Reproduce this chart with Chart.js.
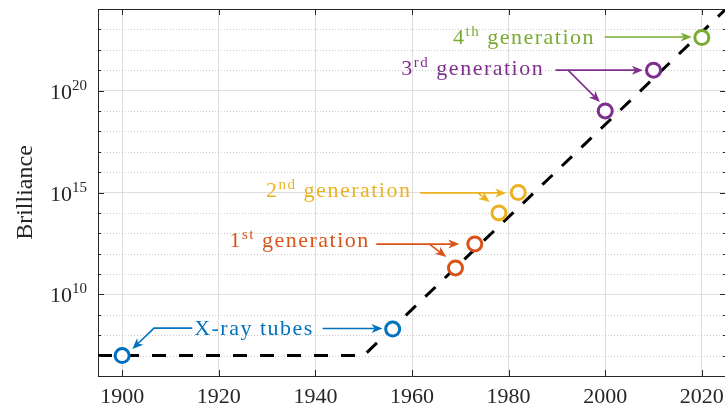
<!DOCTYPE html>
<html>
<head>
<meta charset="utf-8">
<script src="https://cdn.jsdelivr.net/npm/chart.js@4/dist/chart.umd.min.js"></script>
<style>
  html, body { margin: 0; padding: 0; background: #fff; overflow: hidden; }
  #wrap { width: 727px; height: 412px; }
</style>
</head>
<body>
<div id="wrap"><canvas id="brilliance"></canvas></div>
<script>
// ===========================================
// Data
// ===========================================

// light sources (year, brilliance)
var xrayYears = [1900, 1956];
var xrayBrill = [1e7, 2e8];
var gen1Years = [1969, 1973];
var gen1Brill = [2e11, 3e12];
var gen2Years = [1978, 1982];
var gen2Brill = [1e14, 1e15];
var gen3Years = [2000, 2010];
var gen3Brill = [1e19, 1e21];
var gen4Years = [2020];
var gen4Brill = [4e22];

// trend (dashed)
var trendYears = [1895, 1950, 2025];
var trendBrill = [1e7, 1e7, 1e24];

// ticks
var xTicks = [1900, 1920, 1940, 1960, 1980, 2000, 2020];
var yTickExponents = [10, 15, 20];
var yMinorExponents = [6, 7, 8, 9, 11, 12, 13, 14, 16, 17, 18, 19, 21, 22, 23, 24];

// ===========================================
// Styles
// ===========================================
var serif = "'Liberation Serif', 'DejaVu Serif', serif";
var axisColor = '#262626';
var gridColor = '#dedede';
var minorGridColor = '#c9c9c9';

var blue = '#0072BD';
var orange = '#D95319';
var yellow = '#EDB120';
var purple = '#7E2F8E';
var green = '#77AC30';

// annotations: text at [year, log10 brilliance] (left, baseline), arrows as polylines
var notes = [
	{ color: blue, at: [1914.9, 8.0], parts: [['X-ray tubes', 0]],
	  arrows: [ [[1914.5, 8.35], [1906.6, 8.35], [1902.1, 7.32]],
	            [[1941.5, 8.33], [1953.9, 8.33]] ] },
	{ color: orange, at: [1922.2, 12.33], parts: [['1', 0], ['st', 1], [' generation', 0]],
	  arrows: [ [[1952.6, 12.47], [1969.8, 12.47]],
	            [[1963.6, 12.47], [1967.1, 11.84]] ] },
	{ color: yellow, at: [1929.8, 14.78], parts: [['2', 0], ['nd', 1], [' generation', 0]],
	  arrows: [ [[1961.7, 14.98], [1979.5, 14.98]],
	            [[1973.6, 14.98], [1976.1, 14.54]] ] },
	{ color: purple, at: [1957.8, 20.78], parts: [['3', 0], ['rd', 1], [' generation', 0]],
	  arrows: [ [[1989.7, 21.0], [2007.8, 21.0]],
	            [[1992.3, 21.0], [1998.9, 19.44]] ] },
	{ color: green, at: [1968.5, 22.30], parts: [['4', 0], ['th', 1], [' generation', 0]],
	  arrows: [ [[1999.9, 22.63], [2017.9, 22.63]] ] }
];

// ===========================================
// Functions
// ===========================================
function toPoints(xs, ys) {
	return xs.map(function (x, i) { return { x: x, y: ys[i] }; });
}

function markerSet(xs, ys, color) {
	return {
		data: toPoints(xs, ys),
		showLine: false,
		pointStyle: 'circle',
		pointRadius: 7,
		pointHoverRadius: 7,
		pointBorderWidth: 3,
		borderColor: color,
		backgroundColor: '#ffffff',
		order: 0
	};
}

function drawArrow(ctx, pts, color) {
	var n = pts.length;
	var tip = pts[n - 1], prev = pts[n - 2];
	var a = Math.atan2(tip.y - prev.y, tip.x - prev.x);
	var c = Math.cos(a), s = Math.sin(a);
	var len = 11, half = 4.5, back = 8;
	var bx = tip.x - back * c, by = tip.y - back * s;
	ctx.strokeStyle = color;
	ctx.fillStyle = color;
	ctx.lineWidth = 1.6;
	ctx.setLineDash([]);
	ctx.beginPath();
	ctx.moveTo(pts[0].x, pts[0].y);
	for (var i = 1; i < n - 1; i++) ctx.lineTo(pts[i].x, pts[i].y);
	ctx.lineTo(bx, by);
	ctx.stroke();
	ctx.beginPath();
	ctx.moveTo(tip.x, tip.y);
	ctx.lineTo(tip.x - len * c + half * s, tip.y - len * s - half * c);
	ctx.lineTo(bx, by);
	ctx.lineTo(tip.x - len * c - half * s, tip.y - len * s + half * c);
	ctx.closePath();
	ctx.fill();
}

function drawParts(ctx, x, y, parts, color, size, supSize) {
	ctx.fillStyle = color;
	ctx.textAlign = 'left';
	ctx.textBaseline = 'alphabetic';
	parts.forEach(function (p) {
		var sup = p[1] === 1;
		ctx.font = (sup ? supSize : size) + 'px ' + serif;
		ctx.fillText(p[0], x, sup ? y - 8 : y);
		x += ctx.measureText(p[0]).width;
	});
}

var decor = {
	id: 'decor',
	beforeDatasetsDraw: function (chart) {
		var ctx = chart.ctx, area = chart.chartArea, ys = chart.scales.y;
		ctx.save();
		ctx.strokeStyle = minorGridColor;
		ctx.lineWidth = 1;
		ctx.setLineDash([1, 2]);
		yMinorExponents.forEach(function (e) {
			var py = Math.round(ys.getPixelForValue(Math.pow(10, e))) + 0.5;
			if (py <= area.top + 1 || py >= area.bottom - 1) return;
			ctx.beginPath();
			ctx.moveTo(area.left, py);
			ctx.lineTo(area.right, py);
			ctx.stroke();
		});
		ctx.restore();
	},
	afterDatasetsDraw: function (chart) {
		var ctx = chart.ctx, area = chart.chartArea;
		var xs = chart.scales.x, ys = chart.scales.y;
		function px(p) { return { x: xs.getPixelForValue(p[0]), y: ys.getPixelForValue(Math.pow(10, p[1])) }; }

		ctx.save();
		// box: top and right edges, inward ticks
		ctx.strokeStyle = axisColor;
		ctx.lineWidth = 1;
		ctx.setLineDash([]);
		ctx.beginPath();
		ctx.moveTo(area.left, area.top + 0.5);
		ctx.lineTo(area.right, area.top + 0.5);
		ctx.lineTo(area.right - 0.5, area.bottom);
		ctx.stroke();
		ctx.beginPath();
		yTickExponents.concat(yMinorExponents).forEach(function (e) {
			var py = Math.round(ys.getPixelForValue(Math.pow(10, e))) + 0.5;
			var l = yTickExponents.indexOf(e) >= 0 ? 6 : 3;
			ctx.moveTo(area.left, py); ctx.lineTo(area.left + l, py);
			ctx.moveTo(area.right, py); ctx.lineTo(area.right - l, py);
		});
		xTicks.forEach(function (v) {
			var pxx = Math.round(xs.getPixelForValue(v)) + 0.5;
			ctx.moveTo(pxx, area.bottom); ctx.lineTo(pxx, area.bottom - 6);
			ctx.moveTo(pxx, area.top); ctx.lineTo(pxx, area.top + 6);
		});
		ctx.stroke();

		// y tick labels 10^n
		ctx.fillStyle = axisColor;
		ctx.textBaseline = 'alphabetic';
		ctx.textAlign = 'left';
		yTickExponents.forEach(function (e) {
			var py = ys.getPixelForValue(Math.pow(10, e));
			ctx.font = '15px ' + serif;
			var ew = ctx.measureText(String(e)).width;
			ctx.font = '22px ' + serif;
			var bw = ctx.measureText('10').width;
			var right = area.left - 11;
			ctx.fillText('10', right - ew - bw, py + 8);
			ctx.font = '15px ' + serif;
			ctx.fillText(String(e), right - ew, py - 1);
		});

		// annotations
		ctx.letterSpacing = '1.5px';
		notes.forEach(function (n) {
			n.arrows.forEach(function (a) { drawArrow(ctx, a.map(px), n.color); });
			var t = px(n.at);
			drawParts(ctx, t.x, t.y, n.parts, n.color, 22, 15);
		});
		ctx.letterSpacing = '0px';
		ctx.restore();
	}
};

// ===========================================
// Chart
// ===========================================
var ctx = document.getElementById('brilliance').getContext('2d');

new Chart(ctx, {
	type: 'scatter',
	data: {
		datasets: [
			markerSet(xrayYears, xrayBrill, blue),
			markerSet(gen1Years, gen1Brill, orange),
			markerSet(gen2Years, gen2Brill, yellow),
			markerSet(gen3Years, gen3Brill, purple),
			markerSet(gen4Years, gen4Brill, green),
			{
				data: toPoints(trendYears, trendBrill),
				showLine: true,
				borderColor: '#000000',
				borderWidth: 3,
				borderDash: [14, 13],
				pointRadius: 0,
				pointHoverRadius: 0,
				fill: false,
				order: 1
			}
		]
	},
	options: {
		responsive: true,
		maintainAspectRatio: false,
		animation: false,
		events: [],
		layout: { autoPadding: false, padding: { top: 9, right: 1, left: 0, bottom: 0 } },
		plugins: { legend: { display: false }, tooltip: { enabled: false } },
		scales: {
			x: {
				type: 'linear',
				min: 1895,
				max: 2025,
				afterBuildTicks: function (s) { s.ticks = xTicks.map(function (v) { return { value: v }; }); },
				afterFit: function (s) { s.height = 36; s.paddingLeft = 0; s.paddingRight = 0; },
				ticks: {
					padding: 8,
					autoSkip: false,
					maxRotation: 0,
					color: axisColor,
					font: { family: serif, size: 22 },
					callback: function (v) { return String(v); }
				},
				grid: { color: gridColor, drawTicks: false, lineWidth: 1 },
				border: { color: axisColor, width: 1 }
			},
			y: {
				type: 'logarithmic',
				min: 1e6,
				max: 1e24,
				afterBuildTicks: function (s) { s.ticks = yTickExponents.map(function (e) { return { value: Math.pow(10, e) }; }); },
				afterFit: function (s) { s.width = 98; s.paddingTop = 0; s.paddingBottom = 0; },
				ticks: { display: false },
				grid: { color: gridColor, drawTicks: false, lineWidth: 1 },
				border: { color: axisColor, width: 1 },
				title: {
					display: true,
					text: 'Brilliance',
					color: axisColor,
					font: { family: serif, size: 24 },
					padding: { top: 11, bottom: 0 }
				}
			}
		}
	},
	plugins: [decor]
});
</script>
</body>
</html>
